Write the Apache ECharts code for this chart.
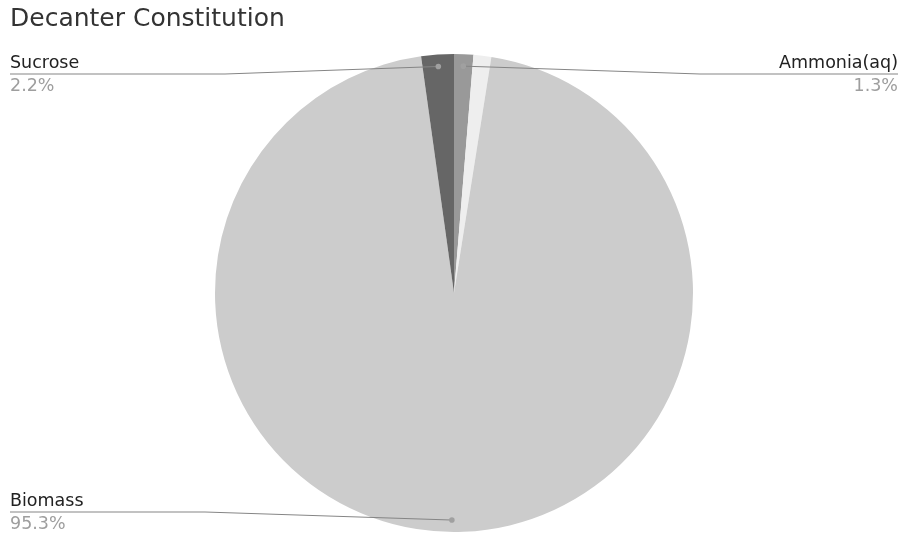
<!DOCTYPE html>
<html>
<head>
<meta charset="utf-8">
<title>Decanter Constitution</title>
<script src="https://cdn.jsdelivr.net/npm/echarts@6/dist/echarts.min.js"></script>
<style>
  html, body { margin: 0; padding: 0; background: #fff; }
  #chart { width: 900px; height: 536px; }
</style>
</head>
<body>
<div id="chart"></div>
<script>
// Decanter stream composition (percent of total)
const titleText = 'Decanter Constitution';
const componentNames = ['Ammonia(aq)', 'Water', 'Biomass', 'Sucrose'];
const componentShares = [1.3, 1.2, 95.3, 2.2];
const componentColors = ['#999999', '#eeeeee', '#cccccc', '#666666'];
// Components that get a callout label
const labelledComponents = ['Ammonia(aq)', 'Biomass', 'Sucrose'];

const FONT = '"DejaVu Sans", Arial, sans-serif';
const chart = echarts.init(document.getElementById('chart'), null, { renderer: 'canvas' });

// Callout placement: which side the label sits on and the height of its leader line
const calloutSide = { 'Ammonia(aq)': 'right', 'Sucrose': 'left', 'Biomass': 'left' };
const calloutLineY = { 'Ammonia(aq)': 74, 'Sucrose': 74, 'Biomass': 512 };
const calloutBendX = { 'Ammonia(aq)': 700, 'Sucrose': 225, 'Biomass': 205 };
const calloutEdgeX = { left: 10, right: 898 };
const NAME_LINE_H = 21;
const PCT_LINE_H = 24;

// Point inside a slice where its leader line starts, taken from the pie layout
function sliceAnchor(idx) {
  const lay = chart.getModel().getSeriesByIndex(0).getData().getItemLayout(idx);
  const mid = (lay.startAngle + lay.endAngle) / 2;
  const rr = lay.r * 0.95;
  return [lay.cx + rr * Math.cos(mid), lay.cy + rr * Math.sin(mid)];
}

const pieData = componentNames.map((name, i) => ({
  name,
  value: componentShares[i],
  itemStyle: { color: componentColors[i] },
  label: { show: labelledComponents.includes(name) }
}));

chart.setOption({
  animation: false,
  title: {
    text: titleText,
    left: 5,
    top: 2,
    textStyle: { fontFamily: FONT, fontSize: 25, fontWeight: 'normal', color: '#333333' }
  },
  series: [{
    type: 'pie',
    center: [454, 293],
    radius: 239,
    startAngle: 90,
    clockwise: true,
    data: pieData,
    itemStyle: { borderWidth: 0 },
    emphasis: { disabled: true },
    label: {
      position: 'outer',
      formatter: p => '{n|' + p.name + '}\n{p|' + p.percent.toFixed(1) + '%}',
      rich: {
        n: { fontFamily: FONT, fontSize: 17.5, color: '#222222', lineHeight: NAME_LINE_H },
        p: { fontFamily: FONT, fontSize: 17.5, color: '#9e9e9e', lineHeight: PCT_LINE_H }
      }
    },
    labelLine: { show: false },
    labelLayout: params => {
      const name = componentNames[params.dataIndex];
      if (!labelledComponents.includes(name)) return {};
      const side = calloutSide[name];
      return {
        x: calloutEdgeX[side],
        y: calloutLineY[name] - NAME_LINE_H,
        align: side,
        verticalAlign: 'top'
      };
    }
  }]
});

// Leader lines and the small dots where they meet their slices
const callouts = [];
componentNames.forEach((name, i) => {
  if (!labelledComponents.includes(name)) return;
  const a = sliceAnchor(i);
  const y = calloutLineY[name];
  callouts.push({
    type: 'polyline',
    shape: { points: [a, [calloutBendX[name], y], [calloutEdgeX[calloutSide[name]], y]] },
    style: { stroke: '#858585', lineWidth: 1, fill: null },
    silent: true,
    z: 100
  });
  callouts.push({
    type: 'circle',
    shape: { cx: a[0], cy: a[1], r: 2.8 },
    style: { fill: '#a0a0a0' },
    silent: true,
    z: 101
  });
});
chart.setOption({ graphic: callouts });
</script>
</body>
</html>
